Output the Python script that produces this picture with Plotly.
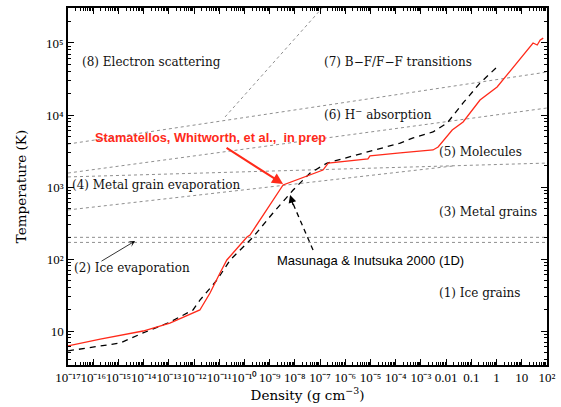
import numpy as np
import plotly.graph_objects as go

# Stamatellos, Whitworth et al. (in prep): density (g cm^-3) vs temperature (K)
sw_density = [1e-17, 1.9e-16, 9.5e-15, 1.1e-13, 1.7e-12, 4.3e-12, 1.07e-11, 2.0e-11,
              3.5e-11, 1.26e-10, 1.66e-10, 4.2e-10, 1.35e-9, 3.4e-9, 1.3e-7, 2.1e-7,
              7.9e-6, 9.5e-6, 1.5e-4, 3.0e-3, 4.8e-3, 1.74e-2, 4.7e-2, 0.22, 1.05,
              4.6, 16, 28, 41, 54, 71]
sw_temp = [6.2, 7.7, 10, 12.9, 19.6, 33.7, 64, 97, 121, 202, 215, 348, 659, 1066,
           1720, 2150, 2450, 2700, 2970, 3270, 3590, 6190, 8000, 16150, 24500,
           46400, 80000, 100000, 93800, 110000, 117000]

# Masunaga & Inutsuka 2000 (1D)
mi_density = [1e-17, 1.9e-16, 1.15e-15, 9.5e-15, 1.1e-13, 9.1e-13, 1.74e-12, 8.1e-12,
              2.7e-11, 2.2e-10, 1.35e-9, 8.5e-9, 4.0e-8, 1.9e-7, 1.5e-4, 4.9e-4,
              3.0e-3, 1.1e-2, 4.7e-2, 0.22, 1.15]
mi_temp = [5.3, 6.2, 6.8, 9.4, 13.3, 19.6, 27, 51, 97, 202, 435, 908, 1563, 2154,
           4080, 4800, 5810, 7740, 14700, 27800, 48000]

# Opacity-regime boundaries (dotted)
bf_density = [1e-17, 1e2]                 # (6) H- / (7) B-F, F-F
bf_temp = [3950, 39500]
hminus_density = [1e-17, 1e2]             # (5) molecules / (6) H-
hminus_temp = [1563, 12500]
molecules_density = [1e-17, 1e2]          # (4) or (3) / (5) molecules
molecules_temp = [1380, 2150]
metal_evap_density = [1e-17, 1.9e-2]      # (3) metal grains / (4) evaporation
metal_evap_temp = [480, 1960]
es_density = [1.7e-11, 1.2e-7]            # (7) / (8) electron scattering
es_temp = [9400, 306000]
ice_evap_hi_temp = 200
ice_evap_lo_temp = 170

regime_labels = ["(8) Electron scattering", "(7) B\u2212F/F\u2212F transitions",
                 "(6) H<sup>\u2212</sup> absorption", "(5) Molecules",
                 "(4) Metal grain evaporation", "(3) Metal grains",
                 "(2) Ice evaporation", "(1) Ice grains"]
regime_density = [3.0e-17, 1.2e-7, 1.2e-7, 4.4e-3, 1.2e-17, 4.4e-3, 1.45e-17, 4.4e-3]
regime_temp = [54500, 54500, 10300, 3060, 1070, 450, 75, 33.7]

SUP = str.maketrans("-0123456789", "\u207b\u2070\u00b9\u00b2\u00b3\u2074\u2075\u2076\u2077\u2078\u2079")

x_exp = list(range(-17, 3))
x_ticktext = []
for e in x_exp:
    if e == -2:
        x_ticktext.append("0.01")
    elif e == -1:
        x_ticktext.append("0.1")
    elif e == 0:
        x_ticktext.append("1")
    elif e == 1:
        x_ticktext.append("10")
    else:
        x_ticktext.append("10" + str(e).translate(SUP))
y_exp = [1, 2, 3, 4, 5]
y_ticktext = ["10"] + ["10" + str(e).translate(SUP) for e in y_exp[1:]]

SERIF = "DejaVu Serif"
TICKFONT = "Liberation Serif"
dot_style = dict(color="#8f8f8f", width=1, dash="dot")

fig = go.Figure()
for xs, ys in [(bf_density, bf_temp), (hminus_density, hminus_temp),
               (molecules_density, molecules_temp),
               (metal_evap_density, metal_evap_temp), (es_density, es_temp),
               ([1e-17, 1e2], [ice_evap_hi_temp] * 2), ([1e-17, 1e2], [ice_evap_lo_temp] * 2)]:
    fig.add_trace(go.Scatter(x=xs, y=ys, mode="lines", line=dot_style,
                             hoverinfo="skip", showlegend=False))

fig.add_trace(go.Scatter(x=mi_density, y=mi_temp, mode="lines",
                         line=dict(color="black", width=1.3, dash="6px,5px"),
                         showlegend=False))
fig.add_trace(go.Scatter(x=sw_density, y=sw_temp, mode="lines",
                         line=dict(color="#ff2a1a", width=1.3), showlegend=False))

# dashed pointer for the Masunaga & Inutsuka label
fig.add_trace(go.Scatter(x=[10**-7.28, 10**-8.1], y=[10**2.125, 10**2.79], mode="lines",
                         line=dict(color="black", width=1.3, dash="5px,4px"),
                         hoverinfo="skip", showlegend=False))

L = np.log10
annotations = []
for txt, xd, yd in zip(regime_labels, regime_density, regime_temp):
    annotations.append(dict(x=L(xd), y=L(yd), text=txt, showarrow=False, xanchor="left",
                            yanchor="middle", font=dict(family=SERIF, size=12, color="#111")))

annotations.append(dict(x=-16.0, y=3.694, text="<b>Stamatellos, Whitworth, et al.,  in prep</b>",
                        showarrow=False, xanchor="left", yanchor="middle",
                        font=dict(family="Liberation Sans", size=12.8, color="#ff2a1a")))
annotations.append(dict(x=-8.79, y=1.986, text="Masunaga &amp; Inutsuka 2000 (1D)",
                        showarrow=False, xanchor="left", yanchor="middle",
                        font=dict(family="Liberation Sans", size=13, color="black")))
# red arrow to the kink of the red curve
annotations.append(dict(x=-8.47, y=3.042, ax=-10.77, ay=3.556, axref="x", ayref="y",
                        xref="x", yref="y", text="", showarrow=True, arrowhead=2,
                        arrowsize=1.1, arrowwidth=2, arrowcolor="#ff2a1a"))
# black arrowhead at the end of the dashed pointer
annotations.append(dict(x=-8.19, y=2.889, ax=-8.05, ay=2.73, axref="x", ayref="y",
                        xref="x", yref="y", text="", showarrow=True, arrowhead=2,
                        arrowsize=1.2, arrowwidth=1.3, arrowcolor="black"))
# thin arrow from the ice-evaporation label
annotations.append(dict(x=-14.34, y=2.25, ax=-15.73, ay=1.958, axref="x", ayref="y",
                        xref="x", yref="y", text="", showarrow=True, arrowhead=3,
                        arrowsize=1.3, arrowwidth=0.8, arrowcolor="black"))

x_minor = [m * 10.0**e for e in range(-17, 2) for m in range(2, 10)]
y_minor = [m * 10.0**e for e in range(0, 6) for m in range(1, 10)]

fig.update_layout(
    width=561, height=407,
    margin=dict(l=68, r=14, t=8, b=42),
    paper_bgcolor="white", plot_bgcolor="white",
    annotations=annotations,
    xaxis=dict(type="log", range=[-17, 2], tickmode="array",
               tickvals=[10.0**e for e in x_exp], ticktext=x_ticktext,
               tickangle=0, automargin=False,
               ticks="inside", ticklen=6, tickwidth=1, tickcolor="black",
               minor=dict(tickmode="array", tickvals=x_minor, ticks="inside",
                          ticklen=3, tickcolor="black", showgrid=False),
               showline=True, linecolor="black", linewidth=1.5, mirror="ticks",
               showgrid=False, zeroline=False,
               tickfont=dict(family=TICKFONT, size=13, color="black"),
               title=dict(text="Density (g cm<sup>\u22123</sup>)", standoff=6,
                          font=dict(family=SERIF, size=13.5, color="black"))),
    yaxis=dict(type="log", range=[0.528, 5.486], tickmode="array",
               tickvals=[10.0**e for e in y_exp], ticktext=y_ticktext,
               automargin=False,
               ticks="inside", ticklen=6, tickwidth=1, tickcolor="black",
               minor=dict(tickmode="array", tickvals=y_minor, ticks="inside",
                          ticklen=3, tickcolor="black", showgrid=False),
               showline=True, linecolor="black", linewidth=1.5, mirror="ticks",
               showgrid=False, zeroline=False,
               tickfont=dict(family=TICKFONT, size=13, color="black"),
               title=dict(text="Temperature (K)", standoff=16,
                          font=dict(family=SERIF, size=13.5, color="black"))),
)

fig.write_html("out.html")
